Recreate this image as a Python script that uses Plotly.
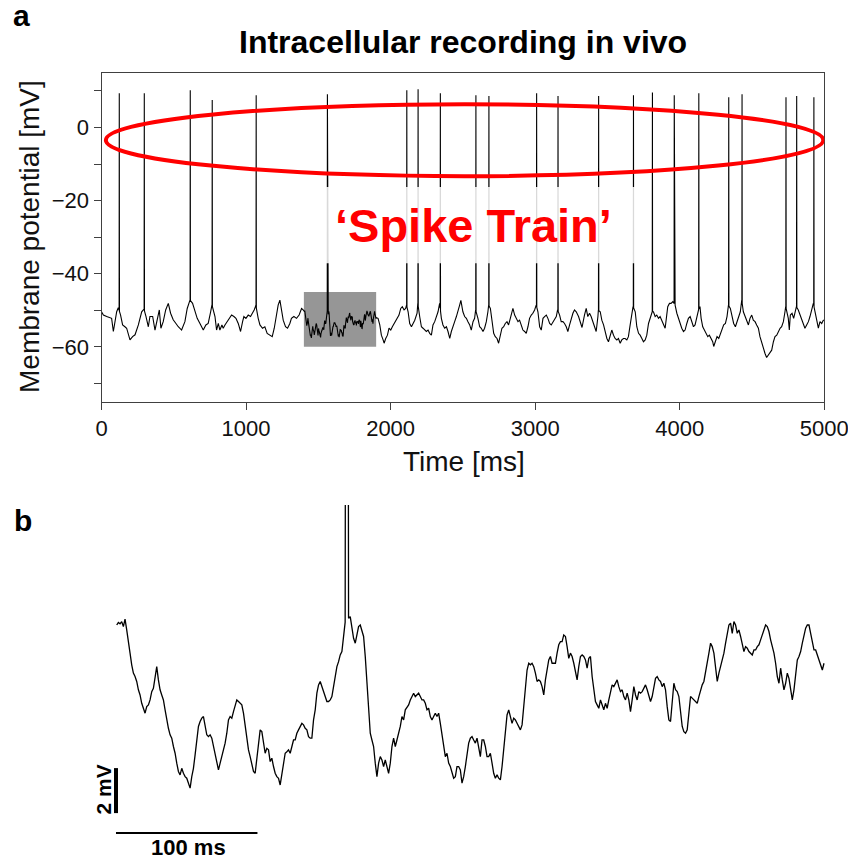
import numpy as np
import plotly.graph_objects as go

# ---------------- data ----------------
# spike times [ms] and spike peak potentials [mV]
spike_times = [123, 296, 614, 766, 1070, 1562.7, 2112, 2190, 2344, 2590, 2680, 3010,
               3158, 3439, 3680, 3811, 3962, 4132, 4339, 4431, 4735, 4809, 4928]
spike_peaks = [9.4, 9.4, 10.2, 7.5, 8.8, 9.1, 10.2, 10.5, 9.4, 8.8, 8.6, 9.4,
               8.6, 8.6, 8.8, 9.6, 8.8, 9.4, 8.3, 9.1, 8.3, 8.6, 8.3]

# sub-threshold membrane potential, 0 - 1400 ms
early_t = [0, 13, 36, 59, 70, 82, 93, 105, 116, 132,
           146, 162, 174, 197, 215, 232, 255, 278, 294, 308,
           324, 335, 354, 370, 386, 400, 411, 427, 444, 462,
           478, 496, 515, 531, 554, 577, 593, 612, 630, 646,
           662, 681, 704, 722, 738, 755, 764, 785, 796, 808,
           819, 833, 842, 854, 870, 888, 900, 916, 930, 946,
           962, 976, 985, 999, 1015, 1031, 1045, 1056, 1068, 1084,
           1096, 1114, 1130, 1146, 1165, 1181, 1195, 1211, 1222, 1234,
           1245, 1257, 1273, 1287, 1303, 1314, 1331, 1349, 1367, 1384,
           1395]
early_mv = [-50.4, -51.3, -51.7, -52.0, -52.2, -55.8, -53.6, -50.4, -49.3, -51.3,
            -54.0, -54.5, -54.9, -58.1, -57.2, -56.7, -54.0, -50.4, -49.7, -51.7,
            -54.5, -51.7, -51.7, -55.4, -52.2, -49.9, -54.9, -53.1, -49.9, -48.1,
            -50.8, -52.6, -53.6, -54.5, -55.4, -53.1, -49.5, -47.2, -48.1, -50.4,
            -52.2, -53.6, -55.4, -54.0, -53.6, -50.4, -48.5, -51.7, -55.4, -53.6,
            -55.4, -54.0, -54.9, -54.0, -53.1, -52.2, -51.3, -51.7, -52.2, -53.6,
            -55.8, -53.1, -51.7, -52.2, -51.3, -51.7, -50.8, -49.9, -48.7, -52.2,
            -54.0, -54.9, -54.5, -56.3, -56.8, -57.2, -54.9, -50.8, -48.6, -47.2,
            -49.9, -52.7, -54.5, -54.9, -53.6, -52.2, -51.7, -52.2, -51.3, -49.5,
            -49.9]

# detailed segment 1400 - 1900 ms (shaded box, shown enlarged in panel b), even sampling
zoom_start, zoom_end = 1400, 1900
zoom_mv = [
    -50.30, -50.19, -50.25, -50.15, -50.37, -50.04, -50.52, -50.96, -51.55, -52.07,
    -52.44, -52.59, -52.81, -53.18, -53.41, -53.78, -54.00, -54.22, -53.93, -53.85,
    -53.63, -53.26, -53.11, -52.59, -52.15, -52.74, -53.18, -53.41, -53.63, -54.07,
    -54.52, -54.89, -55.18, -55.33, -55.70, -56.00, -56.44, -56.81, -56.96, -56.67,
    -56.89, -57.04, -57.11, -57.33, -57.55, -57.04, -56.67, -56.07, -55.41, -54.81,
    -54.59, -54.44, -54.37, -54.74, -55.18, -55.26, -55.18, -55.33, -55.70, -56.00,
    -56.37, -56.74, -56.44, -56.15, -55.93, -55.55, -55.11, -54.52, -54.37, -54.44,
    -54.15, -53.93, -53.63, -53.70, -53.78, -53.85, -54.22, -54.81, -55.41, -55.85,
    -56.15, -56.44, -56.81, -56.89, -56.15, -55.48, -54.96, -55.04, -55.55, -56.00,
    -55.78, -55.85, -56.37, -56.22, -56.59, -56.89, -57.04, -57.11, -57.41, -56.96,
    -56.44, -56.00, -55.93, -55.85, -56.00, -55.63, -55.41, -55.41, -55.11, -54.96,
    -54.81, -54.67, -54.74, -54.89, -54.96, -55.26, -55.33, -55.33, -54.52, -54.07,
    -53.33, -52.96, -52.81, -53.04, -53.18, -53.48, -53.70, -53.70, -53.63, -53.48,
    -52.96, -52.44, -52.15, -51.93, -51.63, -51.48, -50.67, -50.15, -50.07, -50.00,
    -49.93, -50.44, -50.89, -51.11, -50.74, -50.37, -50.30, -50.52, -50.81, -51.70,
    -52.74, -54.07, -55.11, -55.41, -55.70, -56.44, -57.04, -56.44, -56.15, -56.30,
    -56.59, -56.30, -56.59, -56.89, -56.44, -55.70, -55.33, -55.70, -55.41, -55.11,
    -54.81, -54.37, -54.52, -54.07, -53.93, -53.85, -53.63, -53.48, -53.33, -53.48,
    -53.41, -53.33, -53.48, -53.63, -53.63, -53.78, -54.07, -54.00, -54.37, -54.52,
    -54.37, -54.22, -54.37, -54.22, -54.67, -55.11, -55.70, -56.15, -56.00, -56.44,
    -56.59, -56.89, -57.11, -57.04, -56.59, -56.59,
    -56.74, -57.33, -57.04, -56.59, -56.15, -55.55, -55.33, -55.26, -55.41, -55.55,
    -55.33, -55.78, -56.15, -55.41, -55.41, -55.70, -56.15, -56.15, -56.00, -56.44,
    -56.89, -57.11, -56.96, -57.11, -57.18, -56.59, -55.70, -54.96, -54.30, -54.07,
    -54.44, -54.67, -54.44, -54.52, -54.67, -54.81, -54.96, -54.74, -53.93, -53.04,
    -52.30, -52.00, -52.07, -52.00, -52.15, -52.44, -52.81, -52.74, -52.81, -53.04,
    -53.41, -52.74, -52.22, -51.85, -51.70, -52.00, -52.00, -52.00, -51.55, -51.18,
    -51.04, -51.04, -50.74, -50.81, -51.26, -51.78, -51.55, -51.70, -52.00, -52.44,
    -52.74, -52.15, -51.70, -51.63, -51.70, -51.85, -52.22, -51.78, -51.70, -52.59,
    -53.11, -53.70, -53.85, -54.00, -53.63, -53.85, -54.07, -53.78, -54.00, -53.63,
    -53.26, -52.96, -53.04, -52.89, -52.74, -53.04, -53.26, -53.18, -53.48, -53.63,
    -53.33, -53.63, -54.15, -53.63, -53.04, -53.41, -53.63, -53.26, -53.33, -53.26,
    -53.11, -52.96, -53.18, -53.48, -53.70, -53.48, -53.04, -52.67, -52.59, -52.74,
    -52.81, -53.04, -52.89, -53.18, -53.93, -54.52, -54.59, -53.63, -52.89, -53.18,
    -53.26, -53.48, -54.22, -54.81, -55.04, -55.11, -54.96, -54.22, -53.48, -53.55,
    -53.63, -53.70, -53.78, -53.48, -53.18, -52.96, -52.81, -52.44, -52.00, -51.55,
    -51.11, -51.26, -51.55, -52.15, -52.81, -52.44, -52.15, -51.93, -51.55, -51.11,
    -50.67, -50.30, -50.22, -50.67, -50.15, -50.30, -50.67, -50.52, -50.81, -51.11,
    -51.48, -51.26, -51.33, -51.48, -51.55, -51.63, -51.41, -51.41, -51.26, -51.18,
    -50.96, -50.74, -50.52, -50.30, -50.37, -50.59, -50.96, -51.26, -51.55, -52.00,
    -52.59, -52.89, -52.22, -52.74, -53.18, -52.89, -52.44, -52.67, -53.18, -53.63,
    -53.18, -52.44, -51.85, -51.70, -51.48, -51.11, -50.74, -50.44, -50.30, -50.30,
    -50.67, -51.11, -51.41, -51.41, -51.63, -51.85, -52.07, -52.30, -52.00]

# sub-threshold membrane potential, 1900 - 5000 ms
late_t = [1913, 1925, 1936, 1948, 1955, 1966, 1978, 1989, 2001, 2012,
          2024, 2035, 2047, 2058, 2070, 2081, 2093, 2104, 2110, 2121,
          2132, 2144, 2155, 2167, 2183, 2188, 2201, 2213, 2224, 2236,
          2247, 2259, 2270, 2282, 2293, 2305, 2316, 2328, 2339, 2351,
          2362, 2374, 2386, 2397, 2409, 2420, 2432, 2443, 2455, 2466,
          2478, 2486, 2500, 2512, 2524, 2535, 2547, 2558, 2570, 2581,
          2588, 2604, 2616, 2627, 2639, 2650, 2662, 2673, 2678, 2690,
          2701, 2713, 2724, 2736, 2747, 2759, 2770, 2782, 2793, 2805,
          2816, 2828, 2839, 2846, 2858, 2869, 2881, 2892, 2904, 2915,
          2927, 2938, 2950, 2961, 2973, 2984, 2996, 3007, 3019, 3031,
          3042, 3054, 3065, 3077, 3088, 3100, 3111, 3123, 3134, 3146,
          3155, 3169, 3180, 3192, 3203, 3215, 3226, 3238, 3249, 3261,
          3272, 3284, 3300, 3312, 3324, 3341, 3353, 3364, 3376, 3387,
          3399, 3410, 3422, 3434, 3437, 3450, 3461, 3473, 3484, 3496,
          3507, 3519, 3530, 3542, 3553, 3565, 3576, 3588, 3599, 3611,
          3622, 3634, 3645, 3657, 3668, 3677, 3692, 3703, 3715, 3726,
          3738, 3749, 3761, 3772, 3784, 3795, 3808, 3818, 3830, 3841,
          3853, 3864, 3876, 3887, 3899, 3910, 3917, 3929, 3940, 3952,
          3968, 3980, 3991, 4003, 4014, 4026, 4037, 4049, 4060, 4072,
          4083, 4095, 4106, 4118, 4129, 4140, 4148, 4159, 4171, 4182,
          4194, 4205, 4217, 4228, 4235, 4247, 4258, 4270, 4281, 4293,
          4304, 4316, 4327, 4337, 4350, 4362, 4373, 4385, 4396, 4408,
          4419, 4429, 4440, 4452, 4463, 4475, 4486, 4498, 4509, 4521,
          4532, 4544, 4555, 4567, 4578, 4590, 4601, 4613, 4625, 4636,
          4648, 4659, 4671, 4682, 4694, 4705, 4717, 4728, 4733, 4751,
          4758, 4765, 4777, 4788, 4800, 4807, 4820, 4832, 4843, 4855,
          4866, 4878, 4890, 4901, 4913, 4924, 4936, 4947, 4959, 4970,
          4982, 4993, 5000]
late_mv = [-52.2, -54.0, -56.8, -58.1, -59.0, -57.7, -56.8, -54.9, -55.4, -54.5,
           -53.6, -53.1, -52.2, -51.3, -49.5, -49.0, -49.9, -49.5, -48.6, -50.4,
           -53.6, -54.5, -53.6, -52.7, -50.8, -48.1, -51.7, -54.5, -54.9, -55.4,
           -55.8, -55.4, -56.3, -56.8, -54.0, -53.1, -51.7, -50.4, -48.1, -52.2,
           -54.0, -54.9, -54.5, -55.8, -57.7, -55.8, -54.0, -53.1, -51.7, -50.4,
           -48.5, -47.3, -50.4, -51.7, -52.2, -53.1, -54.0, -55.4, -53.1, -52.2,
           -49.9, -52.2, -54.5, -54.9, -55.8, -54.9, -53.1, -50.4, -48.6, -49.5,
           -52.2, -56.3, -57.2, -57.7, -59.0, -56.8, -54.9, -54.5, -53.6, -53.1,
           -54.0, -52.2, -50.8, -49.5, -51.3, -52.2, -53.1, -52.7, -54.5, -55.4,
           -55.8, -56.3, -54.5, -52.2, -51.3, -50.8, -49.9, -48.6, -50.4, -54.5,
           -55.4, -52.2, -51.7, -51.3, -52.2, -53.6, -54.0, -53.1, -52.7, -51.7,
           -49.9, -51.3, -53.1, -53.1, -53.6, -54.5, -55.8, -54.0, -52.2, -50.8,
           -49.9, -50.4, -51.7, -53.6, -54.7, -51.3, -49.5, -51.7, -50.8, -51.7,
           -53.1, -54.9, -55.8, -51.7, -50.0, -50.4, -52.7, -54.0, -55.8, -57.7,
           -58.6, -56.8, -55.4, -56.8, -57.7, -58.1, -57.7, -59.0, -58.1, -57.7,
           -57.7, -58.1, -57.2, -54.0, -50.4, -49.0, -50.4, -54.5, -56.3, -56.8,
           -57.7, -58.6, -58.1, -56.8, -53.6, -52.2, -50.4, -50.4, -51.7, -51.3,
           -52.2, -51.7, -52.7, -54.0, -54.9, -51.3, -49.0, -48.1, -48.1, -47.6,
           -48.6, -50.8, -52.2, -53.6, -54.9, -55.8, -55.4, -53.6, -52.2, -51.7,
           -53.1, -54.5, -54.0, -52.2, -49.9, -49.0, -52.2, -54.5, -55.4, -56.3,
           -57.2, -56.8, -57.7, -58.6, -59.9, -58.1, -57.2, -57.7, -56.3, -55.4,
           -54.0, -53.6, -51.7, -48.6, -49.5, -52.2, -53.6, -54.5, -53.1, -51.7,
           -50.4, -47.2, -50.4, -51.7, -53.1, -54.0, -52.2, -51.3, -52.7, -53.1,
           -54.0, -54.9, -57.2, -59.0, -60.4, -61.8, -62.9, -62.2, -61.3, -60.9,
           -58.6, -57.2, -56.8, -55.8, -54.9, -54.5, -53.1, -50.4, -49.0, -52.2,
           -55.4, -51.3, -50.8, -52.2, -50.4, -49.0, -49.9, -51.3, -52.7, -53.6,
           -54.9, -54.0, -53.1, -51.7, -49.9, -48.1, -50.4, -52.7, -54.9, -53.1,
           -53.6, -52.7, -52.7]


# ---------------- build traces ----------------
def add_spikes(t, v, times, peaks, half=1.2):
    t = np.asarray(t, float)
    v = np.asarray(v, float)
    keep = np.ones(len(t), bool)
    et, ev = [], []
    for ts, pk in zip(times, peaks):
        if ts < t[0] or ts > t[-1]:
            continue
        keep &= np.abs(t - ts) >= half
        et += [ts - half, ts, ts + half]
        ev += [np.interp(ts - half, t, v), pk, np.interp(ts + half, t, v)]
    tt = np.concatenate([t[keep], et])
    vv = np.concatenate([v[keep], ev])
    o = np.argsort(tt, kind="stable")
    return tt[o], vv[o]


zoom_t = np.linspace(zoom_start, zoom_end, len(zoom_mv))
full_t = np.concatenate([early_t, zoom_t, late_t])
full_v = np.concatenate([early_mv, zoom_mv, late_mv])
ta, va = add_spikes(full_t, full_v, spike_times, spike_peaks)
tb, vb = add_spikes(zoom_t, zoom_mv, spike_times, spike_peaks)

FONT = "Arial, Liberation Sans, Helvetica, sans-serif"
AX = "#404040"
W, H = 856, 861
OFF = 8  # the page places the figure 8 px in from the top-left corner


def px(x):  # screen pixel (horizontal) -> paper
    return (x - OFF) / W


def py(y):  # screen pixel (vertical) -> paper
    return 1 - (y - OFF) / H


fig = go.Figure()
fig.add_trace(go.Scatter(x=ta, y=va, mode="lines", line=dict(color="black", width=1.1),
                         xaxis="x", yaxis="y", hoverinfo="skip", showlegend=False))
fig.add_trace(go.Scatter(x=tb, y=vb, mode="lines", line=dict(color="black", width=1.3),
                         xaxis="x2", yaxis="y2", hoverinfo="skip", showlegend=False))

ytick_vals = list(range(-70, 11, 10))
ytick_text = ["" if v % 20 else ("\u2212" + str(-v) if v < 0 else str(v)) for v in ytick_vals]

axis_common = dict(showline=True, linecolor=AX, linewidth=1, mirror=True, ticks="outside",
                   ticklen=7, tickcolor=AX, tickwidth=1, showgrid=False, zeroline=False,
                   automargin=False,
                   tickfont=dict(family=FONT, size=22, color="#111"))

# panel b: 1.4146 px per ms, 22.5 px per mV
b_x0, b_x1 = 100, 830
b_y0, b_y1 = 505, 845
b_range_x = [1400 - (116.7 - b_x0) / 1.4146, 1900 + (b_x1 - 824.0) / 1.4146]
b_range_y = [-50.3 - (b_y1 - 625) / 22.5, -50.3 + (625 - b_y0) / 22.5]

fig.update_layout(
    width=W, height=H, margin=dict(l=0, r=0, t=0, b=0, autoexpand=False),
    paper_bgcolor="white", plot_bgcolor="white", showlegend=False,
    xaxis=dict(domain=[px(101.5), px(824.3)], range=[0, 5000], tickvals=list(range(0, 5001, 1000)),
               anchor="y", **axis_common),
    yaxis=dict(domain=[py(401.7), py(72.7)], range=[-75, 15], tickvals=ytick_vals,
               ticktext=ytick_text, anchor="x", **axis_common),
    xaxis2=dict(domain=[px(b_x0), px(b_x1)], range=b_range_x, visible=False, anchor="y2",
                automargin=False),
    yaxis2=dict(domain=[py(b_y1), py(b_y0)], range=b_range_y, visible=False, anchor="x2",
                automargin=False),
)

shapes = [
    # shaded region, enlarged in panel b
    dict(type="rect", xref="x", yref="y", x0=zoom_start, x1=zoom_end, y0=-60, y1=-45,
         fillcolor="rgb(150,150,150)", line=dict(width=0), layer="below"),
    # red ellipse round the spikes
    dict(type="circle", xref="x", yref="y", x0=30, x1=4993, y0=-13.3, y1=6.4,
         line=dict(color="#ff0000", width=4), layer="above"),
    # faded backdrop behind the label
    dict(type="rect", xref="x", yref="y", x0=1546, x1=3720, y0=-37.1, y1=-16.3,
         fillcolor="rgba(255,255,255,0.85)", line=dict(width=0), layer="above"),
    # scale bars in panel b: 2 mV and 100 ms
    dict(type="line", xref="x2", yref="y2", x0=1399.5, x1=1399.5, y0=-58.66, y1=-56.66,
         line=dict(color="black", width=4)),
    dict(type="line", xref="x2", yref="y2", x0=1399.5, x1=1499.5, y0=-59.54, y1=-59.54,
         line=dict(color="black", width=2)),
]
fig.update_layout(shapes=shapes)

ann = [
    dict(text="<b>Intracellular recording in vivo</b>", x=px(463), y=py(42), xref="paper", yref="paper",
         xanchor="center", yanchor="middle", showarrow=False, font=dict(family=FONT, size=32, color="black")),
    dict(text="<b>a</b>", x=px(11), y=py(15), xref="paper", yref="paper", xanchor="left", yanchor="middle",
         showarrow=False, font=dict(family=FONT, size=30, color="black")),
    dict(text="<b>b</b>", x=px(12), y=py(520), xref="paper", yref="paper", xanchor="left", yanchor="middle",
         showarrow=False, font=dict(family=FONT, size=30, color="black")),
    dict(text="Time [ms]", x=px(464), y=py(461), xref="paper", yref="paper", xanchor="center",
         yanchor="middle", showarrow=False, font=dict(family=FONT, size=28, color="#111")),
    dict(text="Membrane potential [mV]", x=px(29), y=py(237), xref="paper", yref="paper",
         xanchor="center", yanchor="middle", textangle=-90, showarrow=False,
         font=dict(family=FONT, size=28, color="#111")),
    dict(text="<b>\u2018Spike Train\u2019</b>", x=2571, y=-26.8, xref="x", yref="y", xanchor="center",
         yanchor="middle", showarrow=False, font=dict(family=FONT, size=47, color="#ff0000")),
    dict(text="<b>2 mV</b>", x=px(102.5), y=py(790), xref="paper", yref="paper", xanchor="center",
         yanchor="middle", textangle=-90, showarrow=False, font=dict(family=FONT, size=21, color="black")),
    dict(text="<b>100 ms</b>", x=px(188), y=py(847.5), xref="paper", yref="paper", xanchor="center",
         yanchor="middle", showarrow=False, font=dict(family=FONT, size=22, color="black")),
]
fig.update_layout(annotations=ann)

fig.write_html("out.html")
